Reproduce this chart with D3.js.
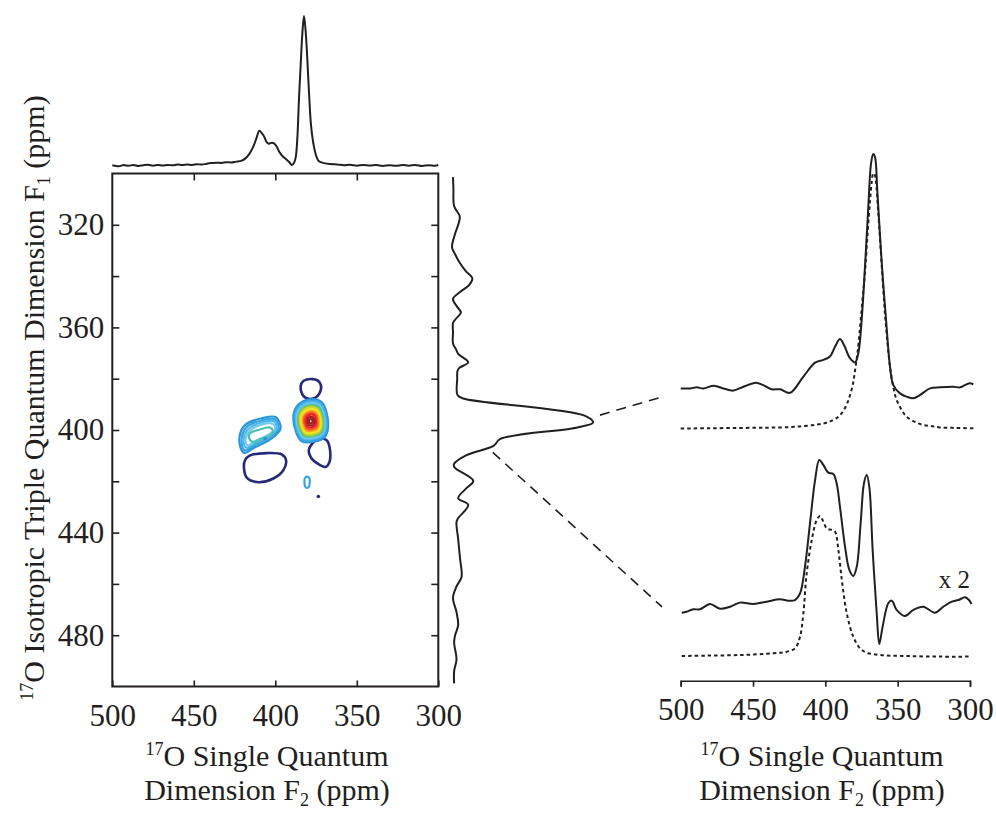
<!DOCTYPE html>
<html>
<head>
<meta charset="utf-8">
<script src="https://cdnjs.cloudflare.com/ajax/libs/d3/7.8.5/d3.min.js"></script>
<style>
  body { margin: 0; background: #fff; }
  svg text { font-family: "Liberation Serif", "Times New Roman", serif; fill: #231f20; }
</style>
</head>
<body>
<svg id="chart" width="996" height="814"></svg>
<script>
// ---- data ----
const f2Ticks = [500, 450, 400, 350, 300];
const f1Labels = [320, 360, 400, 440, 480];
const f1Minor = [320, 340, 360, 380, 400, 420, 440, 460, 480];

// F2 projection above the 2D plot: [ppm, intensity]
const topProj = [[500,0.2],[496,-0.5],[493,0.3],[490,-0.2],[487,0.4],[484,-0.3],[481,0.2],[478,0.5],[475,-0.1],[472,0.3],[469,0],[466,0.4],[463,0.1],[460,0.6],[457,0.3],[454,0.7],[451,0.4],[448,0.9],[445,0.6],[442,1.2],[439,1.6],[436,1.9],[433,1.7],[430,2.2],[427,2.0],[424,2.6],[421,3.1],[418.5,4.6],[416,7.6],[413.5,12.6],[411.5,18.5],[409.8,23.3],[408.2,21.5],[406.8,19.3],[405.5,16.0],[404,14.6],[402,15.3],[400.5,14.6],[399,12.4],[397.5,9.0],[395.5,6.2],[393.5,4.3],[391.5,2.3],[389.8,0.3],[388.4,2.0],[387.4,5.9],[386.4,20],[385.5,43.8],[384.4,68],[383.4,88.4],[382.4,100],[381.4,90],[380.3,70],[379.2,46],[378.0,26],[376.3,12.6],[374.6,5.5],[373.2,2.8],[370,1.6],[366,1.0],[362,0.7],[358,0.2],[354,0.5],[350,-0.1],[346,0.4],[342,0],[338,0.3],[334,-0.3],[330,0.2],[326,-0.2],[322,0.3],[318,-0.1],[314,0.4],[310,-0.3],[306,0.2],[302,-0.2],[300,0.3]];

// F1 projection right of the 2D plot: [ppm, intensity]
const sideProj = [[301.4,0],[306,0.3],[312.7,0.8],[316.7,4.8],[319.5,4.0],[323.5,1.5],[328.8,-0.7],[331.5,1.5],[334.8,4.8],[338,9],[340.9,13.8],[343.5,11.5],[346,5.5],[348.9,0],[352,3],[354.2,5.6],[357,1.5],[358.3,0],[362,0],[366.3,0],[368.7,2.3],[370.3,3.7],[373.6,10.9],[375.8,4.5],[377,3.2],[380,3.0],[386.4,3.2],[387.7,7.2],[394.4,94],[397.1,100],[399.1,88],[403.5,33.8],[406.2,28.9],[409.8,9.7],[413.2,0.8],[414.5,1],[419.8,14.5],[422.5,10],[426.6,3.7],[429.2,10.9],[434.5,3.5],[435.9,2.5],[442.6,3.7],[450,5],[457.3,6.1],[461,2.5],[465.4,0],[471,2.5],[476.1,3.7],[480,1.5],[482.8,0.8],[489.5,2.5],[494,0.8],[498.8,0.8]];

// contour rings [F2 ppm, F1 ppm], with the contour level of each ring
const ringLevels = [0, 0, 0, 2,
  1, 2, 3, 4, 5,
  1, 2, 3, 4, 5, 6, 7, 8, 9, 10, 11, 12, 12];
const rings = [
  [[380.7,380.3],[374.2,380.6],[372.0,382.5],[373.0,385.8],[376.7,387.7],[381.8,387.3],[384.2,384.8],[383.8,381.6]],
  [[415.5,409.9],[405.3,409.0],[396.1,409.5],[393.4,411.8],[395.1,415.7],[401.2,418.9],[411.4,420.3],[417.5,418.6],[419.2,415.0],[418.6,411.8]],
  [[373.6,403.5],[368.5,404.0],[366.4,407.9],[367.0,412.9],[369.1,414.4],[373.0,413.5],[378.1,410.8],[379.5,407.9],[377.7,405.6]],
  [[380.5,418.2],[379.0,418.9],[378.9,420.4],[379.2,421.9],[380.5,422.6],[381.8,421.9],[382.1,420.4],[381.9,418.9]],
  // left peak
  [[422.1,404.0],[418.6,398.1],[408.2,395.4],[399.6,395.0],[396.8,399.3],[402.0,403.2],[412.5,406.7],[419.2,408.9]],
  [[420.7,404.0],[417.7,398.9],[408.2,396.2],[400.2,395.8],[398.0,399.3],[402.9,402.6],[412.5,405.9],[418.9,407.9]],
  [[419.5,403.8],[416.7,399.7],[408.2,397.0],[400.8,396.6],[399.3,399.5],[403.9,402.3],[412.5,405.2],[418.0,406.9]],
  [[418.3,403.6],[415.5,400.3],[408.2,397.8],[401.5,397.6],[400.2,399.7],[404.5,401.9],[412.5,404.4],[417.1,406.0]],
  [[416.0,403.3],[415.5,401.3],[409.4,399.8],[403.7,399.0],[401.6,400.1],[402.8,402.1],[408.3,403.3],[413.5,404.7]],
  // right peak
  [[379.9,388.1],[371.6,389.1],[367.6,397.5],[369.6,402.7],[375.8,404.5],[383.9,404.3],[388.9,396.2],[387.0,391.0]],
  [[379.8,388.7],[372.1,389.6],[368.3,397.4],[370.2,402.3],[376.0,403.9],[383.5,403.8],[388.2,396.2],[386.4,391.4]],
  [[379.7,389.3],[372.5,390.1],[369.1,397.4],[370.8,401.8],[376.1,403.4],[383.1,403.2],[387.4,396.3],[385.8,391.8]],
  [[379.6,389.8],[372.9,390.6],[369.7,397.3],[371.3,401.5],[376.3,402.9],[382.8,402.8],[386.8,396.3],[385.2,392.1]],
  [[379.5,390.3],[373.3,391.0],[370.4,397.3],[371.8,401.1],[376.4,402.4],[382.4,402.3],[386.1,396.3],[384.7,392.5]],
  [[379.4,390.8],[373.7,391.5],[371.0,397.2],[372.4,400.7],[376.6,402.0],[382.1,401.8],[385.5,396.3],[384.2,392.8]],
  [[379.3,391.3],[374.1,391.9],[371.6,397.2],[372.9,400.4],[376.7,401.5],[381.7,401.4],[384.8,396.4],[383.7,393.1]],
  [[379.1,391.9],[374.6,392.5],[372.4,397.1],[373.5,400.0],[376.9,400.9],[381.3,400.8],[384.1,396.4],[383.0,393.5]],
  [[379.0,392.6],[375.1,393.1],[373.2,397.0],[374.2,399.5],[377.1,400.3],[380.9,400.2],[383.2,396.4],[382.3,394.0]],
  [[378.9,393.3],[375.6,393.7],[374.1,397.0],[374.8,399.0],[377.3,399.7],[380.4,399.6],[382.4,396.4],[381.6,394.4]],
  [[378.7,394.0],[376.2,394.3],[375.0,396.9],[375.6,398.4],[377.5,399.0],[379.9,398.9],[381.4,396.5],[380.8,394.9]],
  [[378.5,394.9],[376.9,395.1],[376.1,396.8],[376.5,397.8],[377.7,398.2],[379.3,398.1],[380.3,396.5],[380.0,395.5]],
  [[378.4,395.8],[377.5,395.8],[377.2,396.7],[377.4,397.2],[378.0,397.4],[378.8,397.4],[379.3,396.6],[379.1,396.0]]
];
// isolated single-point contours [F2, F1] and their levels
const dots = [[373.6,425.9],[406.3,403.3]];
const dotLevels = [0, 1];

// contour level colours (jet-like)
const levelColours = ["#262a78","#2b94d9","#35a6e0","#4fb8e8","#72caee","#4fc1b0","#8cc63f","#c6d92f","#f5e51d","#f9a51b","#f15a24","#ed1c24","#9e1f24"];

// slices shown on the right: [F2 ppm, intensity]
const upperSlice = [[500,14.6],[493.6,14.6],[488.9,15.0],[484.4,14.6],[477.0,15.6],[470.5,14.6],[463.6,13.8],[456.7,15.2],[447.9,16.7],[442.9,15.8],[437.1,14.3],[431.3,14.3],[424.4,13.0],[415.2,18.9],[407.1,24.0],[401.4,25.0],[396.8,26.2],[393.3,29.8],[389.9,32.6],[387.1,30.4],[383.0,25.6],[379.5,24.1],[377.2,27.4],[374.9,39.5],[372.6,58.9],[370.3,80.8],[368.4,96.6],[366.9,100],[365.7,99.0],[364.1,86.9],[361.0,60.2],[357.5,35.9],[355.3,22.5],[353.0,15.8],[348.4,12.8],[343.8,11.6],[339.2,11.0],[334.6,12.2],[327.6,14.6],[320.7,15.0],[311.6,15.2],[306.9,15.0],[303.5,15.8],[300.0,16.5],[297.7,16.1]];
const upperFit = [[500,0],[480,0.1],[459,0.2],[440,0.3],[424.4,0.5],[415,0.9],[406,1.4],[400,2.0],[394.5,3.1],[390.5,4.5],[387.6,6.4],[385,9],[383,12],[381,16],[379.5,21],[377.7,28],[376,37],[374.3,47],[372.6,57],[370.8,71],[369.1,83],[367.9,90],[366.9,93],[365.9,92.5],[365,90],[363.6,80],[362.2,69],[360.5,55],[358.8,42],[357,31],[355.3,22.5],[353,15],[350.7,10.4],[347,6.5],[343.8,4.3],[338,2.4],[332.3,1.3],[326,0.8],[320.7,0.4],[310,0.2],[297.7,0.1]];
const lowerSlice = [[499.3,22.5],[495.9,23.0],[491.3,24.2],[486.7,24.2],[479.7,26.9],[472.8,24.5],[465.9,25.5],[459,27.6],[449.8,26.9],[440.5,28.1],[431.3,29.3],[425.6,28.6],[421,28.9],[417.5,32.3],[414.1,45.8],[410.6,67.9],[407.1,89.8],[404.2,100],[401.4,97.5],[398,93.6],[394.5,92.9],[392.2,88.2],[389.9,76.3],[386.4,56.0],[383.4,44.2],[380.7,41.1],[378.3,45.8],[375.6,67.9],[373.3,88.2],[371.4,92.4],[369.6,86.4],[367.3,54.3],[364.5,22.2],[362.7,6.6],[360.4,15.4],[356.5,27.3],[354.1,28.6],[350.7,23.9],[345.1,20.8],[339.2,23.9],[332.3,25.5],[324.2,22.5],[318.5,25.5],[312.6,28.1],[308.1,28.9],[303.5,30.3],[301.2,29.3],[298.9,26.9]];
const lowerFit = [[499.3,0.5],[482,0.7],[459,1.0],[436,1.9],[426.7,2.7],[421,4.4],[417.5,10.3],[415.2,22.2],[412.9,42.5],[409.4,59.4],[406,69.5],[403.7,71.6],[401.4,68.7],[399,65.3],[395.6,64.5],[393.3,63.6],[391,54.3],[388.6,39.1],[385.2,22.2],[380.7,10.3],[376,4.4],[371.4,2.2],[362.2,1.0],[343.8,0.5],[320.7,0.2],[300,0.2]];

// leader lines: start on the F1 projection [intensity, F1], end at slice [F2, intensity]
const leaderStart = [[105, 394.2], [28.4, 408.7]];
const leaderEnd = [[512.9, 11.5], [512.9, 25.4]];

// ---- drawing ----
const ink = "#231f20";
const svg = d3.select("#chart");

const x2 = d3.scaleLinear().domain([500, 300]).range([112.3, 438.3]);
const y1 = d3.scaleLinear().domain([300, 500]).range([173.5, 686.5]);
const topY = d3.scaleLinear().domain([0, 100]).range([165.5, 16]);
const sideX = d3.scaleLinear().domain([0, 100]).range([453, 593]);
const rx = d3.scaleLinear().domain([500, 300]).range([680.7, 970]);
const upY = d3.scaleLinear().domain([0, 100]).range([428.5, 154]);
const loY = d3.scaleLinear().domain([0, 100]).range([657, 460]);

function styleAxis(g) {
  g.attr("font-size", null).attr("font-family", null).attr("color", ink);
  g.selectAll("line, path").attr("stroke-width", 1.6);
  g.selectAll("text").style("font-size", "31px");
}

// contours
const ringLine = d3.line()
  .x(d => x2(d[0])).y(d => y1(d[1]))
  .curve(d3.curveCatmullRomClosed.alpha(0.5));
svg.append("g").selectAll("path")
  .data(rings)
  .join("path")
  .attr("d", ringLine)
  .attr("fill", "none")
  .attr("stroke", (d, i) => levelColours[ringLevels[i]])
  .attr("stroke-width", (d, i) => ringLevels[i] === 0 ? 2.6 : 2.2);
svg.append("g").selectAll("circle")
  .data(dots)
  .join("circle")
  .attr("cx", d => x2(d[0])).attr("cy", d => y1(d[1]))
  .attr("r", 1.8)
  .attr("fill", (d, i) => levelColours[dotLevels[i]]);

// frame and axes of the 2D plot
svg.append("rect")
  .attr("x", x2(500)).attr("y", y1(300))
  .attr("width", x2(300) - x2(500)).attr("height", y1(500) - y1(300))
  .attr("fill", "none").attr("stroke", ink).attr("stroke-width", 2);

svg.append("g").attr("transform", `translate(0,${y1(500)})`)
  .call(d3.axisBottom(x2).tickValues(f2Ticks).tickSize(-6).tickPadding(17))
  .call(styleAxis).call(g => g.select(".domain").remove());
svg.append("g").attr("transform", `translate(0,${y1(300)})`)
  .call(d3.axisTop(x2).tickValues([450, 400, 350]).tickSize(-7).tickFormat(""))
  .call(styleAxis).call(g => g.select(".domain").remove());
svg.append("g").attr("transform", `translate(${x2(500)},0)`)
  .call(d3.axisLeft(y1).tickValues(f1Minor).tickSize(-7).tickPadding(8)
    .tickFormat(d => f1Labels.includes(d) ? d : ""))
  .call(styleAxis).call(g => g.select(".domain").remove());
svg.append("g").attr("transform", `translate(${x2(300)},0)`)
  .call(d3.axisRight(y1).tickValues(f1Minor).tickSize(-7).tickFormat(""))
  .call(styleAxis).call(g => g.select(".domain").remove());

// projections
const trace = (sel, d, stroke, dash) => sel.append("path")
  .attr("d", d).attr("fill", "none").attr("stroke", ink)
  .attr("stroke-width", stroke).attr("stroke-linejoin", "round")
  .attr("stroke-dasharray", dash || null);

trace(svg, d3.line().x(d => x2(d[0])).y(d => topY(d[1]))
  .curve(d3.curveCatmullRom.alpha(0.5))(topProj), 2);
trace(svg, d3.line().x(d => sideX(d[1])).y(d => y1(d[0]))
  .curve(d3.curveCatmullRom.alpha(0.5))(sideProj), 2);

// slices on the right
const sliceLine = yS => d3.line().x(d => rx(d[0])).y(d => yS(d[1]))
  .curve(d3.curveCatmullRom.alpha(0.5));
trace(svg, sliceLine(upY)(upperSlice), 2);
trace(svg, sliceLine(upY)(upperFit), 2, "3.5,3");
trace(svg, sliceLine(loY)(lowerSlice), 2);
trace(svg, sliceLine(loY)(lowerFit), 2, "3.5,3");

svg.append("g").attr("transform", "translate(0,680.7)")
  .call(d3.axisBottom(rx).tickValues(f2Ticks).tickSize(6).tickPadding(11))
  .call(styleAxis);

// leader lines
const panelY = [upY, loY];
leaderStart.forEach((s, i) => {
  svg.append("line")
    .attr("x1", sideX(s[0])).attr("y1", y1(s[1]))
    .attr("x2", rx(leaderEnd[i][0])).attr("y2", panelY[i](leaderEnd[i][1]))
    .attr("stroke", ink).attr("stroke-width", 1.6)
    .attr("stroke-dasharray", "10,7");
});

svg.append("text").attr("x", 970).attr("y", 588)
  .attr("text-anchor", "end").style("font-size", "25px").text("x 2");

// axis titles
function f2Title(cx) {
  const t1 = svg.append("text").attr("x", cx).attr("y", 766)
    .attr("text-anchor", "middle").style("font-size", "30px");
  t1.append("tspan").style("font-size", "18px").attr("dy", -11).text("17");
  t1.append("tspan").attr("dy", 11).text("O Single Quantum");
  const t2 = svg.append("text").attr("x", cx).attr("y", 800)
    .attr("text-anchor", "middle").style("font-size", "30px");
  t2.append("tspan").text("Dimension F");
  t2.append("tspan").style("font-size", "18px").attr("dy", 6).text("2");
  t2.append("tspan").attr("dy", -6).text(" (ppm)");
}
f2Title(267);
f2Title(822);

const yt = svg.append("text")
  .attr("transform", "translate(44,398) rotate(-90)")
  .attr("text-anchor", "middle").style("font-size", "30px");
yt.append("tspan").style("font-size", "18px").attr("dy", -11).text("17");
yt.append("tspan").attr("dy", 11).text("O Isotropic Triple Quantum Dimension F");
yt.append("tspan").style("font-size", "18px").attr("dy", 6).text("1");
yt.append("tspan").attr("dy", -6).text(" (ppm)");
</script>
</body>
</html>
